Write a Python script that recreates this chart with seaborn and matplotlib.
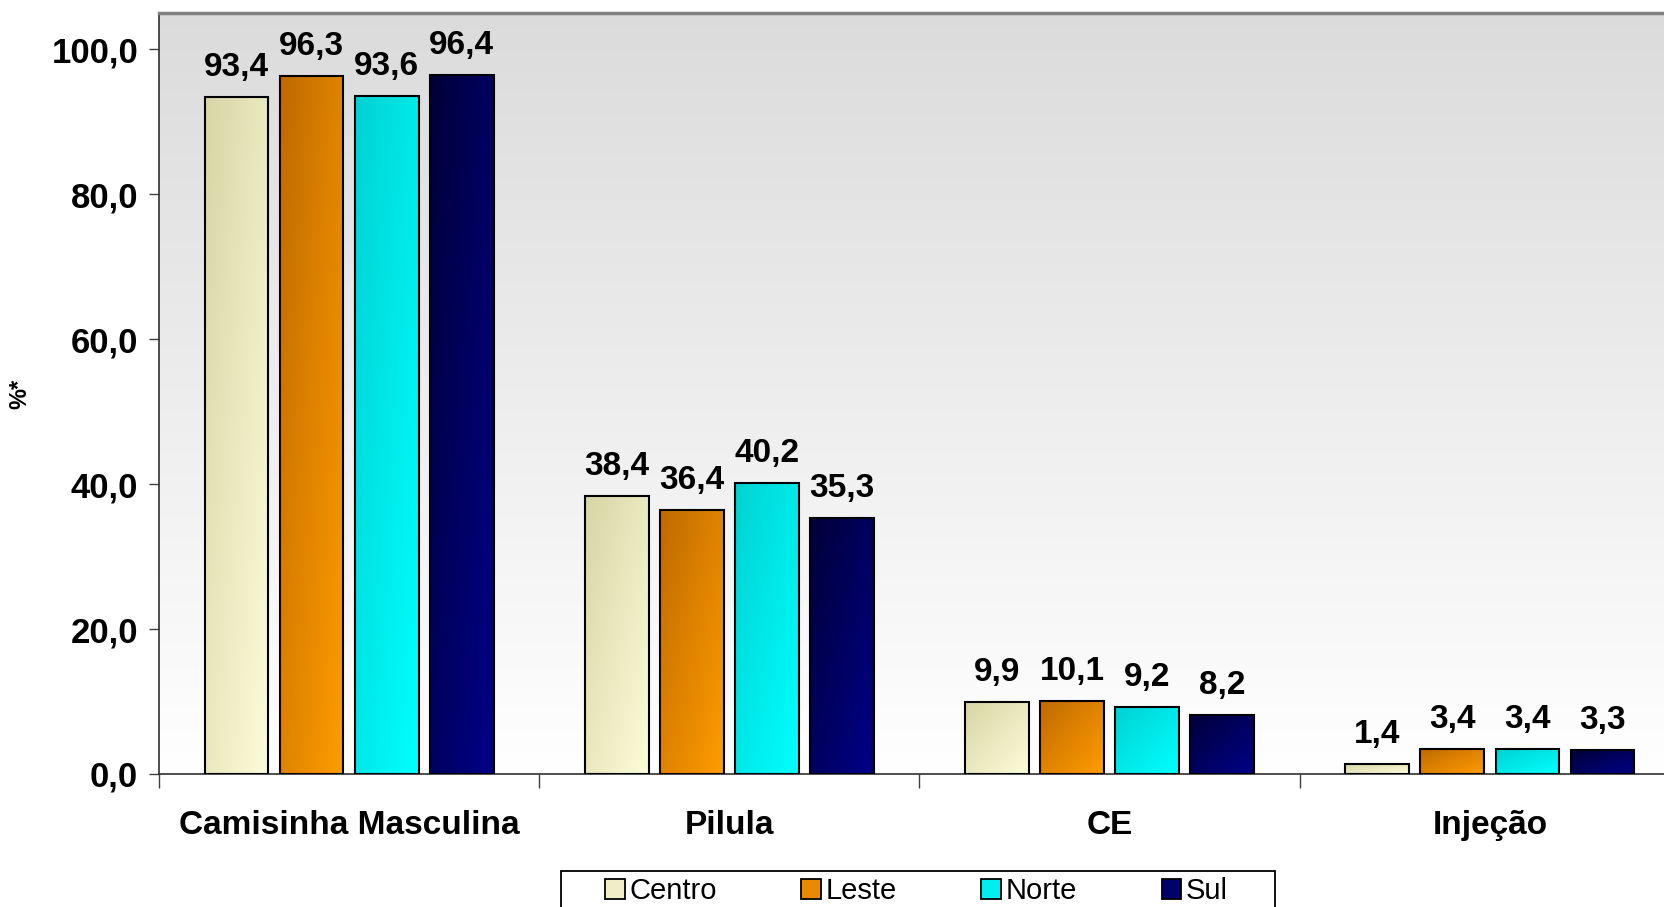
import numpy as np
import pandas as pd
import matplotlib
matplotlib.use("Agg")
import matplotlib.pyplot as plt
import matplotlib.patches as mpatches
from matplotlib.ticker import FuncFormatter
import seaborn as sns

categories = ["Camisinha Masculina", "Pilula", "CE", "Injeção"]
regions = ["Centro", "Leste", "Norte", "Sul"]
centro = [93.4, 38.4, 9.9, 1.4]
leste = [96.3, 36.4, 10.1, 3.4]
norte = [93.6, 40.2, 9.2, 3.4]
sul = [96.4, 35.3, 8.2, 3.3]
y_ticks = [0, 20, 40, 60, 80, 100]
y_label = "%*"

mid_colors = ["#f0eec4", "#e88a00", "#00eeee", "#00006a"]
dark_colors = ["#d8d5a6", "#bf6a00", "#00d2d2", "#000038"]
light_colors = ["#fcfcd8", "#ff9c00", "#00ffff", "#000088"]

series = {"Centro": centro, "Leste": leste, "Norte": norte, "Sul": sul}
rows = []
for reg in regions:
    for cat, v in zip(categories, series[reg]):
        rows.append({"categoria": cat, "regiao": reg, "valor": v})
df = pd.DataFrame(rows)

sns.set_style("ticks")
plt.rcParams["font.family"] = ["Liberation Sans", "DejaVu Sans"]
plt.rcParams["font.weight"] = "bold"
for k in ["text.color", "axes.labelcolor", "xtick.labelcolor", "ytick.labelcolor"]:
    plt.rcParams[k] = "black"

W, H = 1665, 907
fig = plt.figure(figsize=(W / 100, H / 100), dpi=100)
left_px, top_px, bottom_px, right_px = 159, 13, 774, 1680
ax = fig.add_axes([left_px / W, 1 - bottom_px / H, (right_px - left_px) / W, (bottom_px - top_px) / H])
ax.set_facecolor("none")

sns.barplot(data=df, x="categoria", y="valor", hue="regiao", order=categories,
            hue_order=regions, palette=mid_colors, width=0.79, gap=0.15,
            edgecolor="black", linewidth=1.5, legend=False, ax=ax)

# background gradient
bg = np.linspace(0, 1, 256)[:, None]
top_c = np.array([0.86, 0.86, 0.86])
bot_c = np.array([1.0, 1.0, 1.0])
bg_img = top_c[None, None, :] * (1 - bg[:, :, None]) + bot_c[None, None, :] * bg[:, :, None]
ax.imshow(bg_img, extent=[0, 1, 0, 1], transform=ax.transAxes, aspect="auto",
          zorder=0, origin="upper", interpolation="bilinear")

# gradient fills on bars
u = np.linspace(0, 1, 30)[None, :]
v = np.linspace(0, 1, 80)[:, None]
t = (u + v) / 2
for i, cont in enumerate(ax.containers):
    d = np.array(matplotlib.colors.to_rgb(dark_colors[i]))
    l = np.array(matplotlib.colors.to_rgb(light_colors[i]))
    img = d[None, None, :] * (1 - t[:, :, None]) + l[None, None, :] * t[:, :, None]
    for p in cont.patches:
        x0, y0, w, h = p.get_x(), p.get_y(), p.get_width(), p.get_height()
        im = ax.imshow(img, extent=(x0, x0 + w, y0, y0 + h), origin="upper",
                       aspect="auto", zorder=2, interpolation="bilinear")
        im.set_clip_path(p)
        p.set_facecolor("none")
        p.set_zorder(3)
    labels = [f"{val:.1f}".replace(".", ",") for val in cont.datavalues]
    ax.bar_label(cont, labels=labels, padding=10, fontsize=24, fontweight="bold",
                 color="black", zorder=4)

ax.set_xlim(-0.5, 3.5)
ax.set_ylim(0, 105)
ax.set_yticks(y_ticks)
ax.yaxis.set_major_formatter(FuncFormatter(lambda val, pos: f"{val:.1f}".replace(".", ",")))
ax.tick_params(axis="y", direction="out", length=7, width=1, color="#404040",
               labelsize=25, pad=8, labelcolor="black")
ax.set_xticks(range(len(categories)))
ax.set_xticklabels(categories, fontsize=24, fontweight="bold", color="black")
ax.set_xticks([-0.5, 0.5, 1.5, 2.5, 3.5], minor=True)
ax.tick_params(axis="x", which="major", length=0, pad=26)
ax.tick_params(axis="x", which="minor", direction="out", length=10, width=1, color="#404040")
ax.set_xlabel("")
ax.set_ylabel(y_label, fontsize=17, fontweight="bold", color="black")
ax.yaxis.set_label_coords((31 - left_px) / (right_px - left_px), 0.5)

for s in ["left", "bottom"]:
    ax.spines[s].set_color("#303030")
    ax.spines[s].set_linewidth(1.2)
ax.spines["top"].set_visible(True)
ax.spines["top"].set_color("#808080")
ax.spines["top"].set_linewidth(2.5)
ax.spines["right"].set_visible(False)

# legend frame + legend
frame = mpatches.Rectangle((561 / W, 1 - 930 / H), (1275 - 561) / W, (930 - 871) / H,
                           transform=fig.transFigure, facecolor="white",
                           edgecolor="black", linewidth=1.3, zorder=1)
fig.patches.append(frame)
handles = [mpatches.Patch(facecolor=c, edgecolor="black", linewidth=1.3, label=r)
           for c, r in zip(mid_colors, regions)]
leg = fig.legend(handles=handles, ncol=4, loc="center left",
                 bbox_to_anchor=(605 / W, 1 - 891 / H), bbox_transform=fig.transFigure,
                 frameon=False, prop={"size": 21, "weight": "normal"},
                 handlelength=0.68, handleheight=0.68, handletextpad=0.15,
                 columnspacing=2.9, borderpad=0, borderaxespad=0)
for txt in leg.get_texts():
    txt.set_color("black")

fig.savefig("out.png", dpi=100)
